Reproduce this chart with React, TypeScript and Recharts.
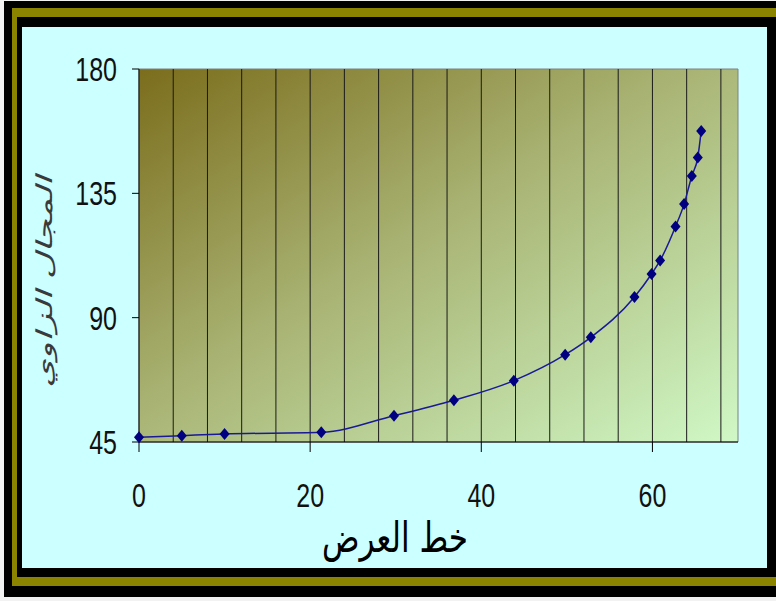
import { LineChart, Line, XAxis, YAxis, ReferenceArea, ReferenceLine } from "recharts";

// خط العرض (degrees) against المجال الزاوي (degrees)
const latitude = [0, 5, 10, 21.3, 29.8, 36.8, 43.8, 49.8, 52.8, 57.9, 59.9, 60.9, 62.7, 63.7, 64.6, 65.3, 65.7];
const angularField = [46.7, 47.3, 47.9, 48.5, 54.5, 60.1, 67.2, 76.6, 82.9, 97.5, 105.8, 110.7, 123.0, 131.1, 141.3, 148.0, 157.6];

const xTicks = [0, 20, 40, 60];
const yTicks = [45, 90, 135, 180];
const gridX = [4, 8, 12, 16, 20, 24, 28, 32, 36, 40, 44, 48, 52, 56, 60, 64, 68];

const xTitle = "خط العرض";
const yTitle = "المجال الزاوي";

const data = latitude.map((x, i) => ({ x, y: angularField[i] }));

// the whole picture is stretched vertically
const STRETCH = 1.34;
const tickFont = "'Liberation Sans', Arial, sans-serif";
const arabicFont = "'DejaVu Sans', sans-serif";

function XTick({ x, y, payload }: any) {
  return (
    <text
      transform={`translate(${x},${y + 55}) scale(1,${STRETCH})`}
      textAnchor="middle"
      fontFamily={tickFont}
      fontSize={25}
      fill="#111"
    >
      {payload.value}
    </text>
  );
}

function YTick({ x, y, payload }: any) {
  return (
    <text
      transform={`translate(${x},${y + 12}) scale(1,${STRETCH})`}
      textAnchor="end"
      fontFamily={tickFont}
      fontSize={25}
      fill="#111"
    >
      {payload.value}
    </text>
  );
}

function Diamond({ cx, cy }: any) {
  if (cx == null || cy == null) return null;
  return (
    <polygon
      points={`${cx},${cy - 6} ${cx + 5},${cy} ${cx},${cy + 6} ${cx - 5},${cy}`}
      fill="#000080"
    />
  );
}

const box = (l: number, t: number, r: number, b: number, bg: string) => (
  <div style={{ position: "absolute", left: l, top: t, right: r, bottom: b, background: bg }} />
);

export default function App() {
  return (
    <div
      style={{
        position: "absolute",
        left: 0,
        top: 0,
        width: 776,
        height: 601,
        overflow: "hidden",
        background: "#f2f2f2",
      }}
    >
      {box(4, 1, -10, 4, "#000")}
      {box(12, 8, -10, 15, "#8b8400")}
      {box(17, 17, 0, 24, "#000")}
      {box(22, 27, 9, 33, "#ccffff")}

      <div style={{ position: "absolute", left: 0, top: 0 }}>
        <LineChart width={776} height={601} data={data} margin={{ top: 69, right: 38, bottom: 59, left: 39 }}>
          <defs>
            <linearGradient id="plotBg" x1="0" y1="0" x2="1" y2="1">
              <stop offset="0%" stopColor="#7b6d1c" />
              <stop offset="45%" stopColor="#a8b272" />
              <stop offset="100%" stopColor="#d0f8c6" />
            </linearGradient>
          </defs>
          <XAxis
            dataKey="x"
            type="number"
            domain={[0, 70]}
            ticks={xTicks}
            interval={0}
            height={100}
            tickSize={10}
            tickMargin={0}
            tick={<XTick />}
            axisLine={{ stroke: "#000" }}
            tickLine={{ stroke: "#000" }}
          />
          <YAxis
            type="number"
            domain={[45, 180]}
            ticks={yTicks}
            interval={0}
            width={100}
            tickSize={7}
            tickMargin={15}
            tick={<YTick />}
            axisLine={{ stroke: "#000" }}
            tickLine={{ stroke: "#000" }}
          />
          <ReferenceArea
            x1={0}
            x2={70}
            y1={45}
            y2={180}
            fill="url(#plotBg)"
            fillOpacity={1}
            stroke="#808080"
            strokeWidth={1}
          />
          {gridX.map((v) => (
            <ReferenceLine key={v} x={v} stroke="#1a1a1a" strokeWidth={1} />
          ))}
          <Line
            dataKey="y"
            type="monotone"
            stroke="#1a1a96"
            strokeWidth={1.5}
            dot={<Diamond />}
            activeDot={false}
            isAnimationActive={false}
          />
        </LineChart>
      </div>

      <svg width={776} height={601} style={{ position: "absolute", left: 0, top: 0, pointerEvents: "none" }}>
        <text
          transform={`translate(395,552) scale(1,${STRETCH})`}
          textAnchor="middle"
          fontFamily={arabicFont}
          fontSize={31}
          fill="#000"
        >
          {xTitle}
        </text>
        <text
          transform={`translate(52,282) rotate(-90) scale(1.65,1)`}
          textAnchor="middle"
          fontFamily={arabicFont}
          fontStyle="italic"
          fontSize={22}
          fill="#3a3a3a"
        >
          {yTitle}
        </text>
      </svg>
    </div>
  );
}
